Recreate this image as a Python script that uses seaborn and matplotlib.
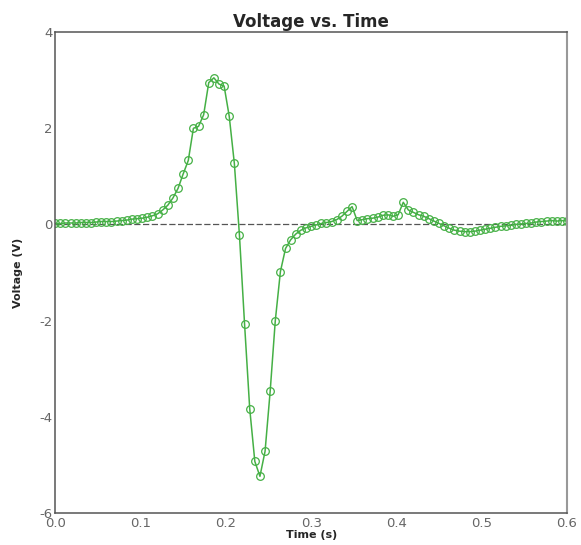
import numpy as np
import pandas as pd
import matplotlib
matplotlib.use('Agg')
import matplotlib.pyplot as plt
import seaborn as sns
from matplotlib.ticker import MultipleLocator, AutoMinorLocator, FormatStrFormatter

time_s = [0.000, 0.006, 0.012, 0.018, 0.024, 0.030, 0.036, 0.042, 0.048, 0.054,
          0.060, 0.066, 0.072, 0.078, 0.084, 0.090, 0.096, 0.102, 0.108, 0.114,
          0.120, 0.126, 0.132, 0.138, 0.144, 0.150, 0.156, 0.162, 0.168, 0.174,
          0.180, 0.186, 0.192, 0.198, 0.204, 0.210, 0.216, 0.222, 0.228, 0.234,
          0.240, 0.246, 0.252, 0.258, 0.264, 0.270, 0.276, 0.282, 0.288, 0.294,
          0.300, 0.306, 0.312, 0.318, 0.324, 0.330, 0.336, 0.342, 0.348, 0.354,
          0.360, 0.366, 0.372, 0.378, 0.384, 0.390, 0.396, 0.402, 0.408, 0.414,
          0.420, 0.426, 0.432, 0.438, 0.444, 0.450, 0.456, 0.462, 0.468, 0.474,
          0.480, 0.486, 0.492, 0.498, 0.504, 0.510, 0.516, 0.522, 0.528, 0.534,
          0.540, 0.546, 0.552, 0.558, 0.564, 0.570, 0.576, 0.582, 0.588, 0.594,
          0.600]
voltage = [0.02, 0.02, 0.03, 0.03, 0.03, 0.04, 0.04, 0.04, 0.05, 0.06,
           0.06, 0.06, 0.07, 0.08, 0.09, 0.11, 0.12, 0.13, 0.15, 0.18,
           0.22, 0.30, 0.40, 0.55, 0.75, 1.05, 1.33, 2.00, 2.04, 2.28,
           2.95, 3.05, 2.92, 2.88, 2.25, 1.27, -0.23, -2.08, -3.83, -4.93,
           -5.24, -4.72, -3.47, -2.00, -0.98, -0.50, -0.32, -0.20, -0.12, -0.07,
           -0.04, -0.01, 0.02, 0.04, 0.06, 0.10, 0.17, 0.27, 0.37, 0.08,
           0.10, 0.12, 0.13, 0.15, 0.19, 0.20, 0.17, 0.20, 0.46, 0.30,
           0.25, 0.20, 0.17, 0.12, 0.07, 0.02, -0.03, -0.08, -0.12, -0.14,
           -0.15, -0.15, -0.14, -0.12, -0.10, -0.08, -0.06, -0.04, -0.03, -0.02,
           0.00, 0.01, 0.02, 0.03, 0.05, 0.06, 0.07, 0.08, 0.07, 0.08,
           0.07]

df = pd.DataFrame({"Time (s)": time_s, "Voltage (V)": voltage})

sns.set_style("white")
plt.rcParams['font.family'] = ['DejaVu Sans']
plt.rcParams['axes.unicode_minus'] = False

fig = plt.figure(figsize=(5.81, 5.45), dpi=100)
ax = fig.add_axes([0.095, 0.059, 0.881, 0.882])

green = '#45b045'
ax.axhline(0, color='#555555', lw=0.9, ls=(0, (5, 2)), zorder=1)
sns.lineplot(data=df, x="Time (s)", y="Voltage (V)", ax=ax, color=green,
             lw=1.1, marker='o', markersize=5.5, markerfacecolor='none',
             markeredgecolor=green, markeredgewidth=0.9, zorder=2)

ax.xaxis.set_major_locator(MultipleLocator(0.1))
ax.xaxis.set_minor_locator(AutoMinorLocator(5))
ax.xaxis.set_major_formatter(FormatStrFormatter('%.1f'))
ax.yaxis.set_major_locator(MultipleLocator(2))
ax.yaxis.set_minor_locator(AutoMinorLocator(4))
ax.set_xlim(0, 0.6)
ax.set_ylim(-6, 4)
ax.tick_params(which='both', direction='in', color='#333333', labelcolor='#666666',
               labelsize=9.5, pad=2)
ax.tick_params(axis='x', pad=3)
ax.tick_params(which='major', length=4)
ax.tick_params(which='minor', length=2.5)

for side in ['left', 'bottom', 'top']:
    ax.spines[side].set_color('#555555')
    ax.spines[side].set_linewidth(1.1)
ax.spines['right'].set_color('#999999')
ax.spines['right'].set_linewidth(1.5)

ax.set_title("Voltage vs. Time", fontsize=12, fontweight='bold', pad=4)
ax.set_xlabel("Time (s)", fontsize=8, fontweight='bold', labelpad=0)
ax.set_ylabel("Voltage (V)", fontsize=8, fontweight='bold', labelpad=12)

fig.savefig("out.png", dpi=100)
